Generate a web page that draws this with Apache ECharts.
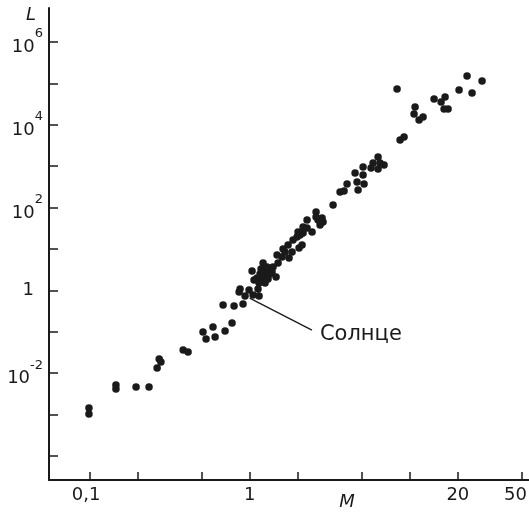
<!DOCTYPE html>
<html>
<head>
<meta charset="utf-8">
<script src="https://cdn.jsdelivr.net/npm/echarts@6/dist/echarts.min.js"></script>
<style>
html,body{margin:0;padding:0;background:#fff}
#chart{width:529px;height:513px}
</style>
</head>
<body>
<div id="chart"></div>
<script>
// масса звезды (в массах Солнца)
var mass = [
    0.099, 0.099, 0.146, 0.146, 0.195, 0.235, 0.264, 0.272, 0.279, 0.384,
    0.412, 0.511, 0.534, 0.590, 0.608, 0.702, 0.776, 0.682, 0.799, 0.909,
    0.871, 0.859, 0.936, 0.991, 1.05, 1.145, 1.128, 1.035, 1.065, 1.112,
    1.161, 1.195, 1.230, 1.266, 1.303, 1.341, 1.145, 1.248, 1.178, 1.380,
    1.285, 1.213, 1.462, 1.400, 1.505, 1.483, 1.617, 1.594, 1.738, 1.763,
    1.867, 1.841, 2.035, 2.065, 2.157, 1.978, 2.126, 2.284, 2.284, 2.157,
    2.455, 2.600, 2.600, 2.676, 2.834, 2.876, 2.754, 2.006, 1.664, 3.321,
    3.673, 3.890, 4.062, 4.558, 4.691, 4.759, 5.114, 5.114, 5.188, 5.739,
    5.906, 6.346, 6.346, 6.531, 6.918, 8.343, 8.710, 9.226, 10.81, 10.65,
    11.45, 12.13, 14.21, 15.72, 16.65, 16.41, 17.38, 20.36, 22.84, 24.55,
    28.35
];
// светимость (в светимостях Солнца)
var lum = [
    0.00144, 0.00103, 0.00516, 0.00413, 0.00462, 0.00462, 0.0133, 0.0219, 0.0185, 0.0361,
    0.0323, 0.0984, 0.0667, 0.130, 0.0745, 0.104, 0.162, 0.441, 0.417, 0.466,
    1.075, 0.910, 0.728, 1.017, 0.770, 0.728, 1.075, 2.93, 1.77, 1.98,
    2.48, 1.77, 2.22, 2.93, 1.87, 2.48, 1.50, 1.50, 3.27, 2.77,
    3.65, 4.56, 2.10, 3.65, 4.56, 7.12, 9.95, 6.37, 12.4, 6.03,
    16.4, 8.41, 10.5, 21.7, 24.2, 19.4, 12.4, 49.9, 32.0, 33.8,
    25.6, 77.8, 59.0, 49.9, 55.7, 44.7, 37.8, 25.6, 8.41, 115,
    237, 250, 370, 681, 413, 265, 951, 610, 370, 900,
    1188, 1660, 851, 1188, 1063, 72800, 4280, 5050, 26800, 18100,
    13000, 15300, 41800, 35300, 46700, 23900, 23900, 68900, 150000, 58200,
    113500
];
var xTicks = [0.1, 0.2, 0.5, 1, 2, 5, 10, 20, 50];
var xLabels = [0.1, 1, 20, 50];
var xRange = [0.0557, 55.7];
var yTickPowers = [-4, -3, -2, -1, 0, 1, 2, 3, 4, 5, 6];
var yLabelPowers = [-2, 0, 2, 4, 6];
var yRange = [-4.58, 6.82]; // степени десяти
var sunNote = {from: [1.0, 0.65], to: [2.45, 0.11], text: 'Солнце'};

var font = 'DejaVu Sans';
var ink = '#1a1a1a';

function lg(v) { return Math.log10(v); }

var points = mass.map(function (m, i) { return [lg(m), lg(lum[i])]; });

var myChart = echarts.init(document.getElementById('chart'));
var option = {
    animation: false,
    grid: {left: 49, right: 0, top: 8, bottom: 33, outerBoundsMode: 'none'},
    xAxis: {
        type: 'value',
        min: lg(xRange[0]),
        max: lg(xRange[1]),
        name: 'M',
        nameLocation: 'middle',
        nameGap: 13,
        nameMoveOverlap: false,
        nameTextStyle: {fontFamily: font, fontSize: 18, fontStyle: 'italic', color: ink, padding: [0, 0, 0, 116], verticalAlign: 'top'},
        axisLine: {onZero: false, lineStyle: {color: ink, width: 2}},
        axisTick: {inside: true, length: 8, lineStyle: {color: ink, width: 1.5}, customValues: xTicks.map(lg)},
        axisLabel: {
            margin: 6,
            fontFamily: font, fontSize: 18, color: ink,
            customValues: xLabels.map(lg),
            formatter: function (v) {
                for (var i = 0; i < xLabels.length; i++) {
                    if (Math.abs(lg(xLabels[i]) - v) < 1e-6) {
                        var s = String(xLabels[i]).replace('.', ',');
                        if (i === 0) return '{l|' + s + '}';
                        if (i === xLabels.length - 1) return '{r|' + s + '}';
                        return s;
                    }
                }
                return '';
            },
            rich: {
                l: {fontFamily: font, fontSize: 18, color: ink, padding: [0, 7, 0, 0]},
                r: {fontFamily: font, fontSize: 18, color: ink, padding: [0, 12, 0, 0]}
            }
        },
        splitLine: {show: false}
    },
    yAxis: {
        type: 'value',
        min: yRange[0],
        max: yRange[1],
        name: 'L',
        nameLocation: 'end',
        nameGap: -16,
        nameMoveOverlap: false,
        nameTextStyle: {fontFamily: font, fontSize: 18, fontStyle: 'italic', color: ink, align: 'right', padding: [0, 13, 0, 0]},
        axisLine: {onZero: false, lineStyle: {color: ink, width: 2}},
        axisTick: {inside: true, length: 9, lineStyle: {color: ink, width: 1.5}, customValues: yTickPowers},
        axisLabel: {
            margin: 6,
            customValues: yLabelPowers,
            color: ink,
            formatter: function (v) {
                var p = Math.round(v);
                if (p === 0) return '{one|1}';
                return '{b|10}{s|' + p + '}';
            },
            rich: {
                one: {fontFamily: font, fontSize: 18, color: ink, padding: [0, 9, 0, 0]},
                b: {fontFamily: font, fontSize: 18, color: ink, padding: [11, 0, 0, 0]},
                s: {fontFamily: font, fontSize: 13, color: ink, verticalAlign: 'top'}
            }
        },
        splitLine: {show: false}
    },
    series: [{
        type: 'scatter',
        data: points,
        symbol: 'circle',
        symbolSize: 7.5,
        itemStyle: {color: ink, opacity: 1},
        markLine: {
            silent: true,
            symbol: ['none', 'none'],
            lineStyle: {color: ink, width: 1.3, type: 'solid'},
            label: {
                show: true,
                position: 'end',
                distance: 9,
                formatter: sunNote.text,
                fontFamily: font, fontSize: 21, color: ink
            },
            data: [[
                {coord: [lg(sunNote.from[0]), lg(sunNote.from[1])]},
                {coord: [lg(sunNote.to[0]), lg(sunNote.to[1])]}
            ]]
        }
    }]
};
myChart.setOption(option);
</script>
</body>
</html>
